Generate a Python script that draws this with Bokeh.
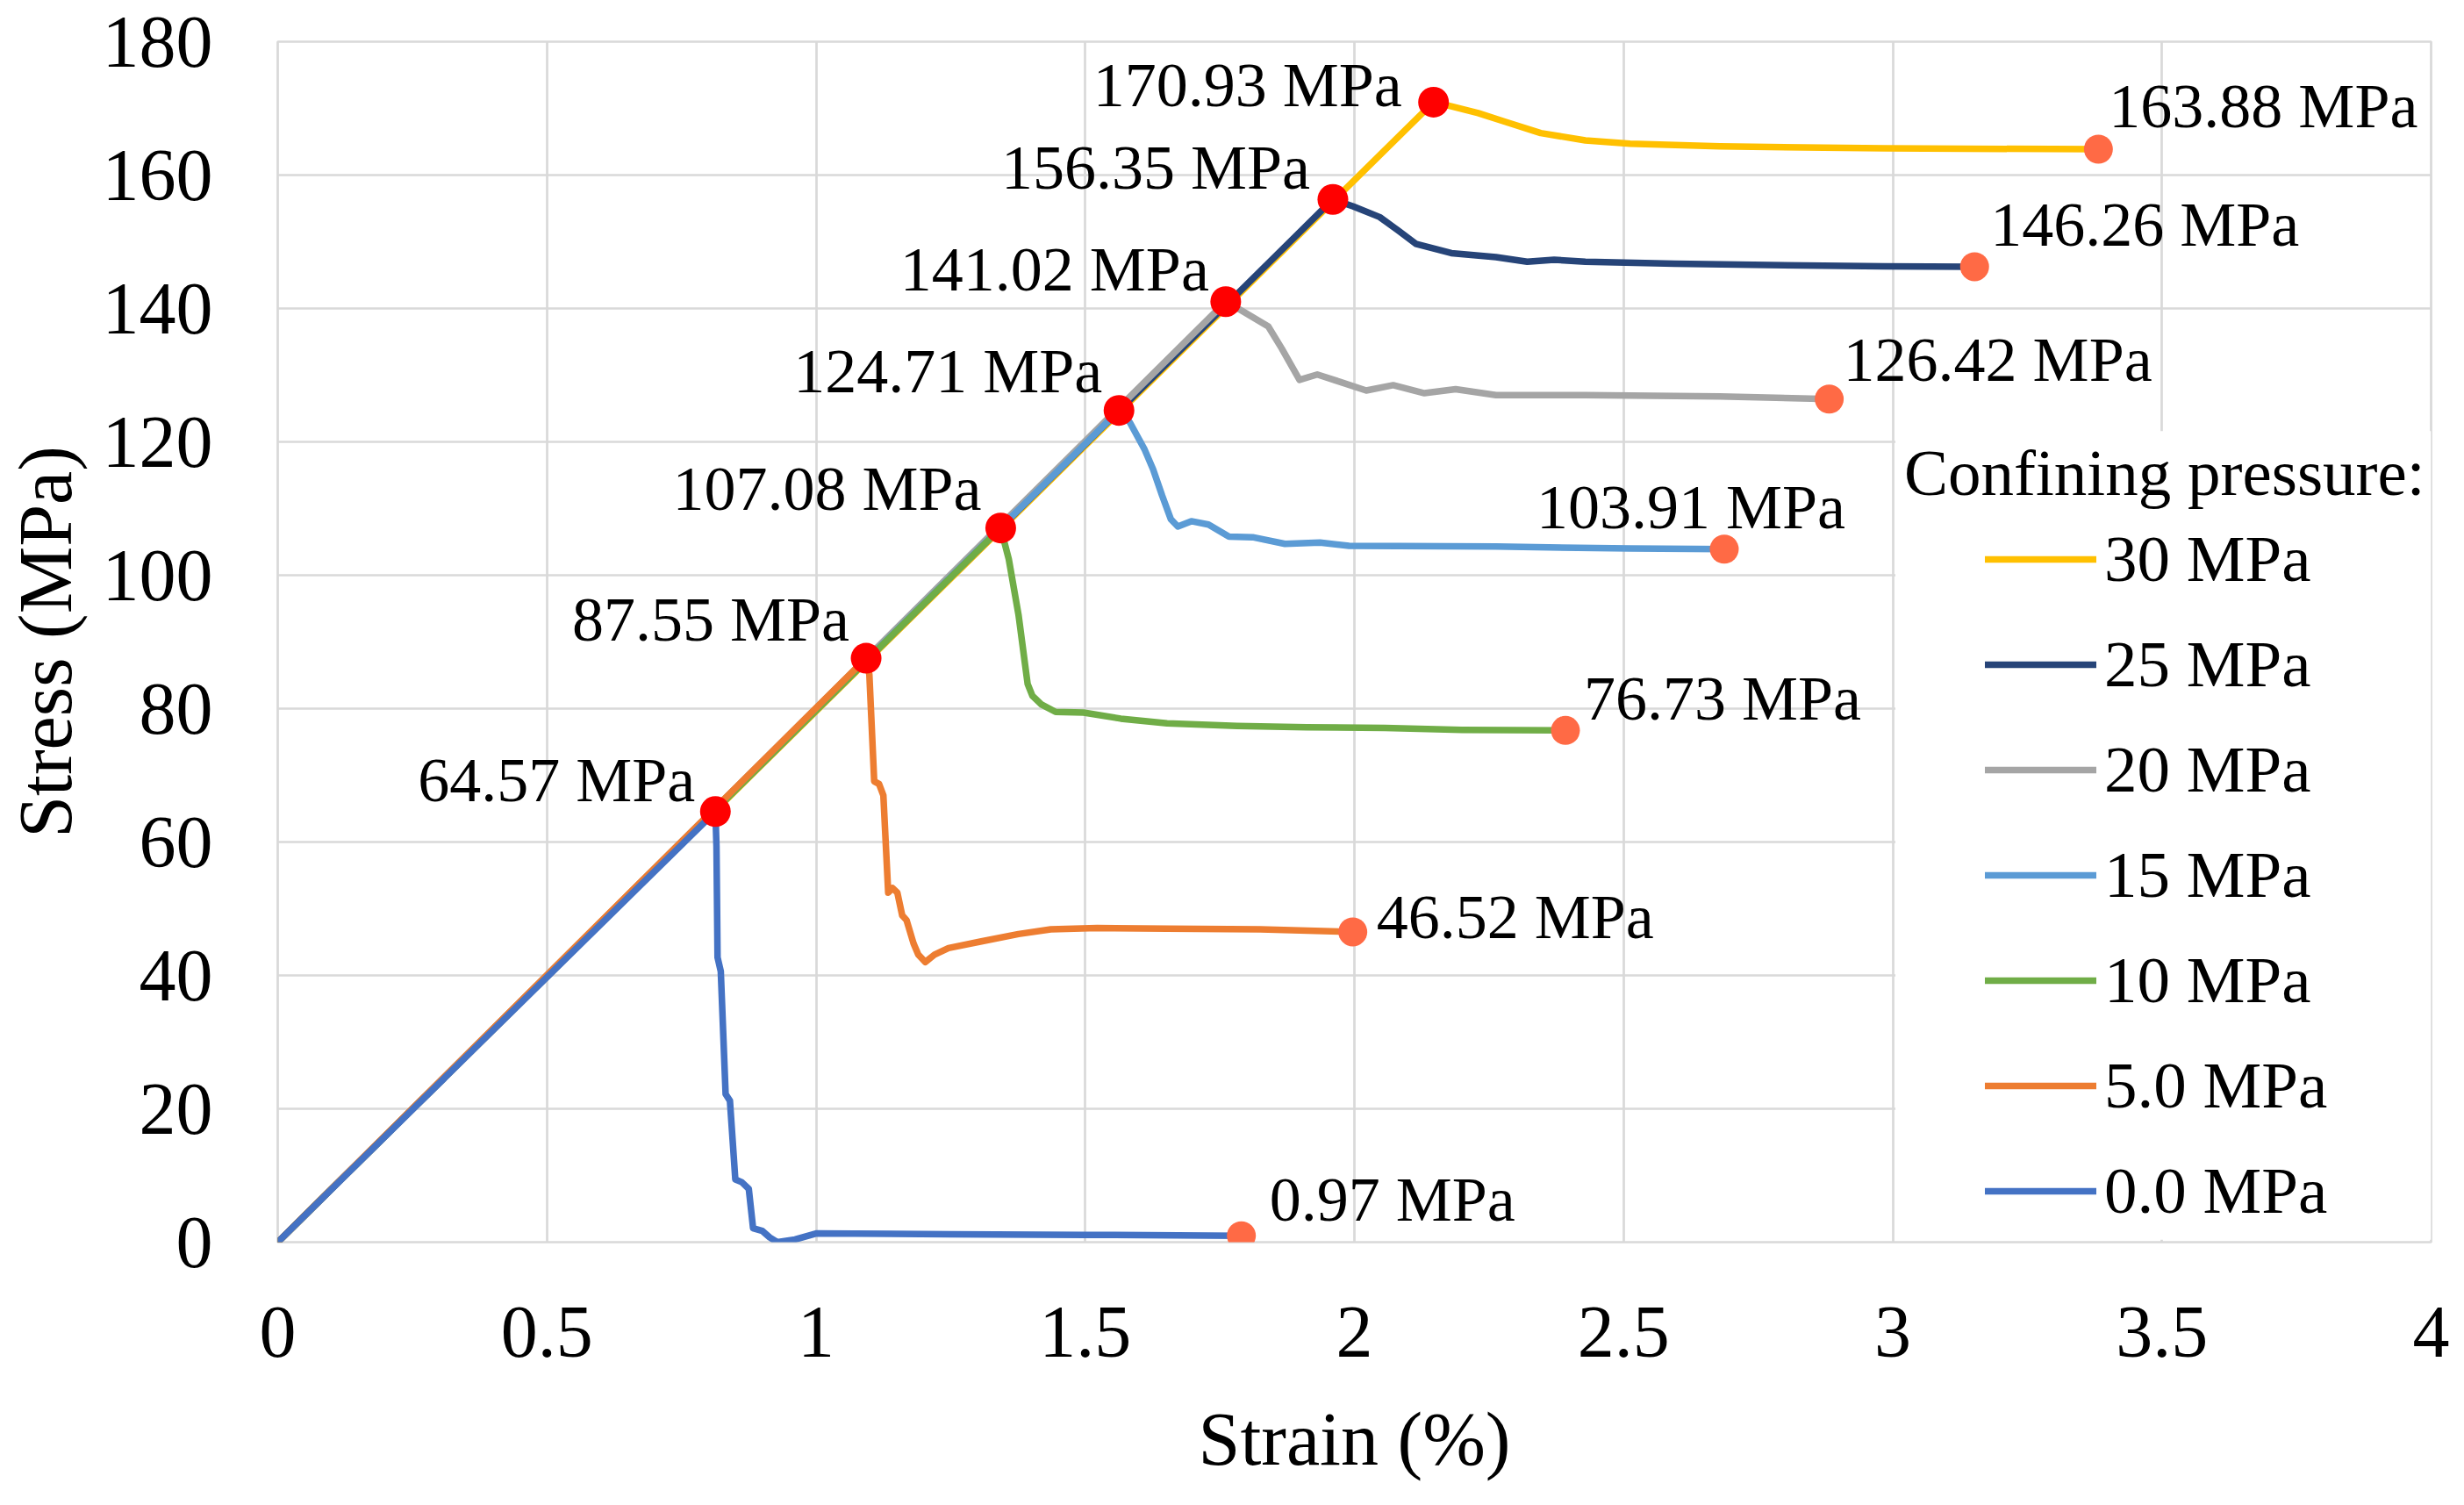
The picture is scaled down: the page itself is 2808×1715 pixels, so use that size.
from bokeh.plotting import figure
from bokeh.models import Range1d, FixedTicker, Legend, LegendItem, BoxAnnotation, Label
from bokeh.core.properties import value
from bokeh.embed import file_html
from bokeh.resources import INLINE

FONT = "Liberation Serif"

# ---------------- data ----------------
series_names = ["30 MPa", "25 MPa", "20 MPa", "15 MPa", "10 MPa", "5.0 MPa", "0.0 MPa"]
series_colors = ["#FFC000", "#264478", "#A5A5A5", "#5B9BD5", "#70AD47", "#ED7D31", "#4472C4"]

strain_30 = [0, 2.147, 2.180, 2.230, 2.280, 2.346, 2.429, 2.512, 2.679, 2.984, 3.382]
stress_30 = [0, 170.93, 170.3, 169.3, 168.0, 166.3, 165.2, 164.7, 164.3, 164.0, 163.88]

strain_25 = [0, 1.960, 1.998, 2.047, 2.081, 2.114, 2.180, 2.263, 2.321, 2.371, 2.429, 2.595, 2.984, 3.152]
stress_25 = [0, 156.35, 155.3, 153.7, 151.7, 149.7, 148.3, 147.7, 147.0, 147.3, 147.0, 146.7, 146.3, 146.26]

strain_20 = [0, 1.761, 1.790, 1.840, 1.865, 1.898, 1.931, 1.973, 2.022, 2.072, 2.130, 2.188, 2.263, 2.429, 2.679, 2.882]
stress_20 = [0, 141.02, 139.7, 137.3, 134.0, 129.3, 130.1, 129.0, 127.7, 128.5, 127.3, 127.9, 127.0, 127.0, 126.8, 126.42]

strain_15 = [0, 1.5627, 1.583, 1.610, 1.626, 1.643, 1.659, 1.672, 1.697, 1.729, 1.767, 1.811, 1.871, 1.936, 1.990, 2.263, 2.512, 2.687]
stress_15 = [0, 124.71, 122.9, 118.9, 115.9, 111.9, 108.4, 107.3, 108.1, 107.6, 105.8, 105.7, 104.7, 104.9, 104.4, 104.3, 104.0, 103.91]

strain_10 = [0, 1.343, 1.358, 1.376, 1.393, 1.402, 1.419, 1.445, 1.497, 1.566, 1.652, 1.782, 1.911, 2.056, 2.200, 2.392]
stress_10 = [0, 107.08, 102.4, 94.1, 83.7, 81.9, 80.6, 79.5, 79.4, 78.5, 77.8, 77.4, 77.2, 77.1, 76.8, 76.73]

strain_5 = [0, 1.093, 1.099, 1.108, 1.117, 1.125, 1.134, 1.142, 1.151, 1.160, 1.168, 1.181, 1.190, 1.203,
            1.220, 1.246, 1.307, 1.376, 1.436, 1.522, 1.652, 1.825, 1.997]
stress_5 = [0, 87.55, 85.1, 69.1, 68.7, 67.0, 52.4, 53.1, 52.4, 49.0, 48.3, 44.8, 43.1, 42.0,
            43.1, 44.1, 45.1, 46.2, 46.9, 47.1, 47.0, 46.9, 46.52]

strain_0 = [0, 0.813, 0.815, 0.817, 0.823, 0.832, 0.840, 0.850, 0.862, 0.875, 0.883, 0.900, 0.914, 0.928,
            0.961, 1.000, 1.250, 1.500, 1.790]
stress_0 = [0, 64.57, 59.4, 42.7, 40.6, 22.2, 21.2, 9.4, 9.0, 8.0, 2.1, 1.7, 0.7, 0.0,
            0.4, 1.3, 1.2, 1.1, 0.97]

peak_strain = [0.813, 1.093, 1.343, 1.5627, 1.761, 1.960, 2.147]
peak_stress = [64.57, 87.55, 107.08, 124.71, 141.02, 156.35, 170.93]
end_strain = [1.790, 1.997, 2.392, 2.687, 2.882, 3.152, 3.382]
end_stress = [0.97, 46.52, 76.73, 103.91, 126.42, 146.26, 163.88]

x_ticks = [0, 0.5, 1, 1.5, 2, 2.5, 3, 3.5, 4]
x_tick_labels = ["0", "0.5", "1", "1.5", "2", "2.5", "3", "3.5", "4"]
y_ticks = [0, 20, 40, 60, 80, 100, 120, 140, 160, 180]

legend_title = "Confining pressure:"

# label offsets (screen px, style only)
peak_dx = [-23, -19, -22, -19, -19, -26, -36]
peak_dy = [-36, -44, -45, -45, -37, -36, -19]
end_dx = [32, 27, 21, -214, 16, 18, 12]
end_dy = [-41, -17, -36, -48, -45, -48, -49]

# ---------------- figure ----------------
p = figure(title=None, frame_width=2454, frame_height=1368,
           x_range=Range1d(0, 4), y_range=Range1d(0, 180),
           output_backend="svg", toolbar_location=None,
           min_border_left=311, min_border_right=25, min_border_top=47, min_border_bottom=284,
           background_fill_color="white", border_fill_color="white")

p.xaxis.ticker = FixedTicker(ticks=x_ticks)
p.xaxis.major_label_overrides = {t: l for t, l in zip(x_ticks, x_tick_labels)}
p.yaxis.ticker = FixedTicker(ticks=y_ticks)
p.xgrid.ticker = FixedTicker(ticks=x_ticks)
p.ygrid.ticker = FixedTicker(ticks=y_ticks)

p.xaxis.axis_label = "Strain (%)"
p.yaxis.axis_label = "Stress (MPa)"
for ax in (p.xaxis[0], p.yaxis[0]):
    ax.axis_line_color = None
    ax.major_tick_line_color = None
    ax.minor_tick_line_color = None
    ax.major_tick_out = 0
    ax.major_tick_in = 0
    ax.major_label_text_font = FONT
    ax.major_label_text_font_size = "84px"
    ax.major_label_text_color = "black"
    ax.axis_label_text_font = FONT
    ax.axis_label_text_font_size = "86px"
    ax.axis_label_text_font_style = "normal"
    ax.axis_label_text_color = "black"
p.xaxis.major_label_standoff = 74
p.xaxis.axis_label_standoff = 43
p.yaxis.major_label_standoff = 74
p.yaxis.axis_label_standoff = 14

p.grid.grid_line_color = "#D9D9D9"
p.grid.grid_line_width = 2.7
p.outline_line_color = "#D9D9D9"
p.outline_line_width = 2.7

all_strain = [strain_30, strain_25, strain_20, strain_15, strain_10, strain_5, strain_0]
all_stress = [stress_30, stress_25, stress_20, stress_15, stress_10, stress_5, stress_0]

items = []
for name, col, xs, ys in zip(series_names, series_colors, all_strain, all_stress):
    r = p.line(xs, ys, line_color=col, line_width=7.5, line_join="round", line_cap="round")
    items.append(LegendItem(label=name, renderers=[r]))

p.scatter(peak_strain, peak_stress, marker="circle", size=35,
          fill_color="#FF0000", line_color="#FF0000", line_width=0)
p.scatter(end_strain, end_stress, marker="circle", size=33,
          fill_color="#FF6A45", line_color="#FF6A45", line_width=0)

peak_labels = [f"{v:.2f} MPa" for v in peak_stress]
end_labels = [f"{v:.2f} MPa" for v in end_stress]

p.text(x=peak_strain, y=peak_stress, text=peak_labels, x_offset=peak_dx, y_offset=peak_dy,
       text_align="right", text_baseline="middle", text_font=value(FONT),
       text_font_size="72px", text_color="black")
p.text(x=end_strain, y=end_stress, text=end_labels, x_offset=end_dx, y_offset=end_dy,
       text_align="left", text_baseline="middle", text_font=value(FONT),
       text_font_size="72px", text_color="black")

# legend background, title and items
box = BoxAnnotation(left=3.005, right=4.0, bottom=0.35, top=121.6,
                    fill_color="white", fill_alpha=1.0, line_color=None)
p.add_layout(box)
title_lbl = Label(x=3.0, y=115.35, x_offset=13, text=legend_title, text_font=FONT,
                  text_font_size="75px", text_baseline="middle", text_align="left",
                  text_color="black")
p.add_layout(title_lbl)

legend = Legend(items=items, location=(1946, 13), orientation="vertical",
                padding=0, margin=0, spacing=30,
                glyph_width=127, glyph_height=90, label_height=90, label_standoff=9,
                label_text_font=FONT, label_text_font_size="75px", label_text_color="black",
                background_fill_alpha=0, border_line_alpha=0)
p.add_layout(legend)

open("out.html", "w").write(file_html(p, INLINE))
